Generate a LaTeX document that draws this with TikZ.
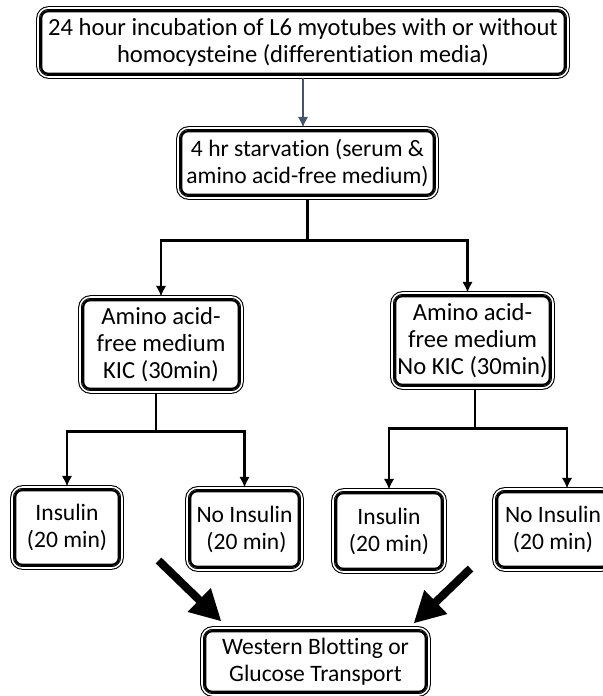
\documentclass[tikz,border=0pt]{standalone}
\usepackage{fontspec}
\setmainfont{Carlito}[Ligatures=NoCommon]
\usepackage{tikz}
\usetikzlibrary{arrows.meta,positioning}

\begin{document}
\begin{tikzpicture}[
  box/.style={draw, double, double distance=0.9pt, line width=0.6pt,
    rounded corners=6pt, align=center, inner sep=0pt,
    font=\fontsize{14}{15.4}\selectfont,
    append after command={\pgfextra{\draw[line width=1.3pt, rounded corners=4pt]
      ([xshift=2.1pt,yshift=2.1pt]\tikzlastnode.south west) rectangle
      ([xshift=-2.1pt,yshift=-2.1pt]\tikzlastnode.north east);}}},
  small/.style={font=\fontsize{13.4}{15.4}\selectfont},
  link/.style={line width=1.5pt, -{Latex[length=6pt,width=6pt]}},
  bigarrow/.style={line width=4.6pt, -{Triangle[length=0.62cm,width=0.62cm]}}
]
%
\useasboundingbox (0,0) rectangle (12.04cm,-13.92cm);
%
\definecolor{cgrey}{rgb}{0.267,0.329,0.416}
%
\node[box, minimum width=10.6cm, minimum height=1.38cm] (inc) at (6.06,-0.85)
  {24 hour incubation of L6 myotubes with or without\\ homocysteine (differentiation media)};
\node[box, small, minimum width=5.18cm, minimum height=1.4cm] (starve) at (6.15,-3.26)
  {4 hr starvation (serum \&\\ amino acid-free medium)};
\node[box, minimum width=3.24cm, minimum height=1.9cm] (kic) at (3.22,-6.89)
  {Amino acid-\\ free medium\\ KIC (30min)};
\node[box, minimum width=3.22cm, minimum height=1.9cm] (nokic) at (9.45,-6.81)
  {Amino acid-\\ free medium\\ No KIC (30min)};
\node[box, small, minimum width=2.2cm, minimum height=1.62cm] (insA) at (1.34,-10.55)
  {Insulin\\ (20 min)};
\node[box, small, minimum width=2.3cm, minimum height=1.64cm] (noinsA) at (4.89,-10.58)
  {No Insulin\\ \,(20 min)};
\node[box, small, minimum width=2.24cm, minimum height=1.64cm] (insB) at (7.78,-10.62)
  {Insulin\\ (20 min)};
\node[box, small, minimum width=2.36cm, minimum height=1.62cm] (noinsB) at (11.06,-10.59)
  {No Insulin\\ (20 min)};
\node[box, small, minimum width=4.54cm, minimum height=1.34cm] (assay) at (6.31,-13.23)
  {Western Blotting or\\ Glucose Transport};
%
\draw[line width=1.5pt, cgrey, -{Latex[length=6pt,width=6pt]}] (inc.south) -- (inc.south |- starve.north);
%
\draw[line width=1.5pt] (starve.south) -- ++(0,-0.84) coordinate (split1);
\draw[link] (split1) -| (kic.north);
\draw[link] (split1) -| ([xshift=-0.1cm]nokic.north);
%
\draw[line width=1.5pt] ([xshift=-0.1cm]kic.south) -- ++(0,-0.78) coordinate (split2);
\draw[link] (split2) -| (insA.north);
\draw[link] (split2) -| (noinsA.north);
%
\draw[line width=1.5pt] ([xshift=0.05cm]nokic.south) -- ++(0,-0.8) coordinate (split3);
\draw[link] (split3) -| (insB.north);
\draw[link] (split3) -| ([xshift=0.28cm]noinsB.north);
%
\draw[bigarrow] ([xshift=0.72cm,yshift=0.16cm]insA.south east) -- ([xshift=0.4cm,yshift=0.12cm]assay.north west);
\draw[bigarrow] ([xshift=0.5cm,yshift=0.08cm]insB.south east) -- ([xshift=-0.32cm,yshift=0.08cm]assay.north east);
%
\end{tikzpicture}
\end{document}
